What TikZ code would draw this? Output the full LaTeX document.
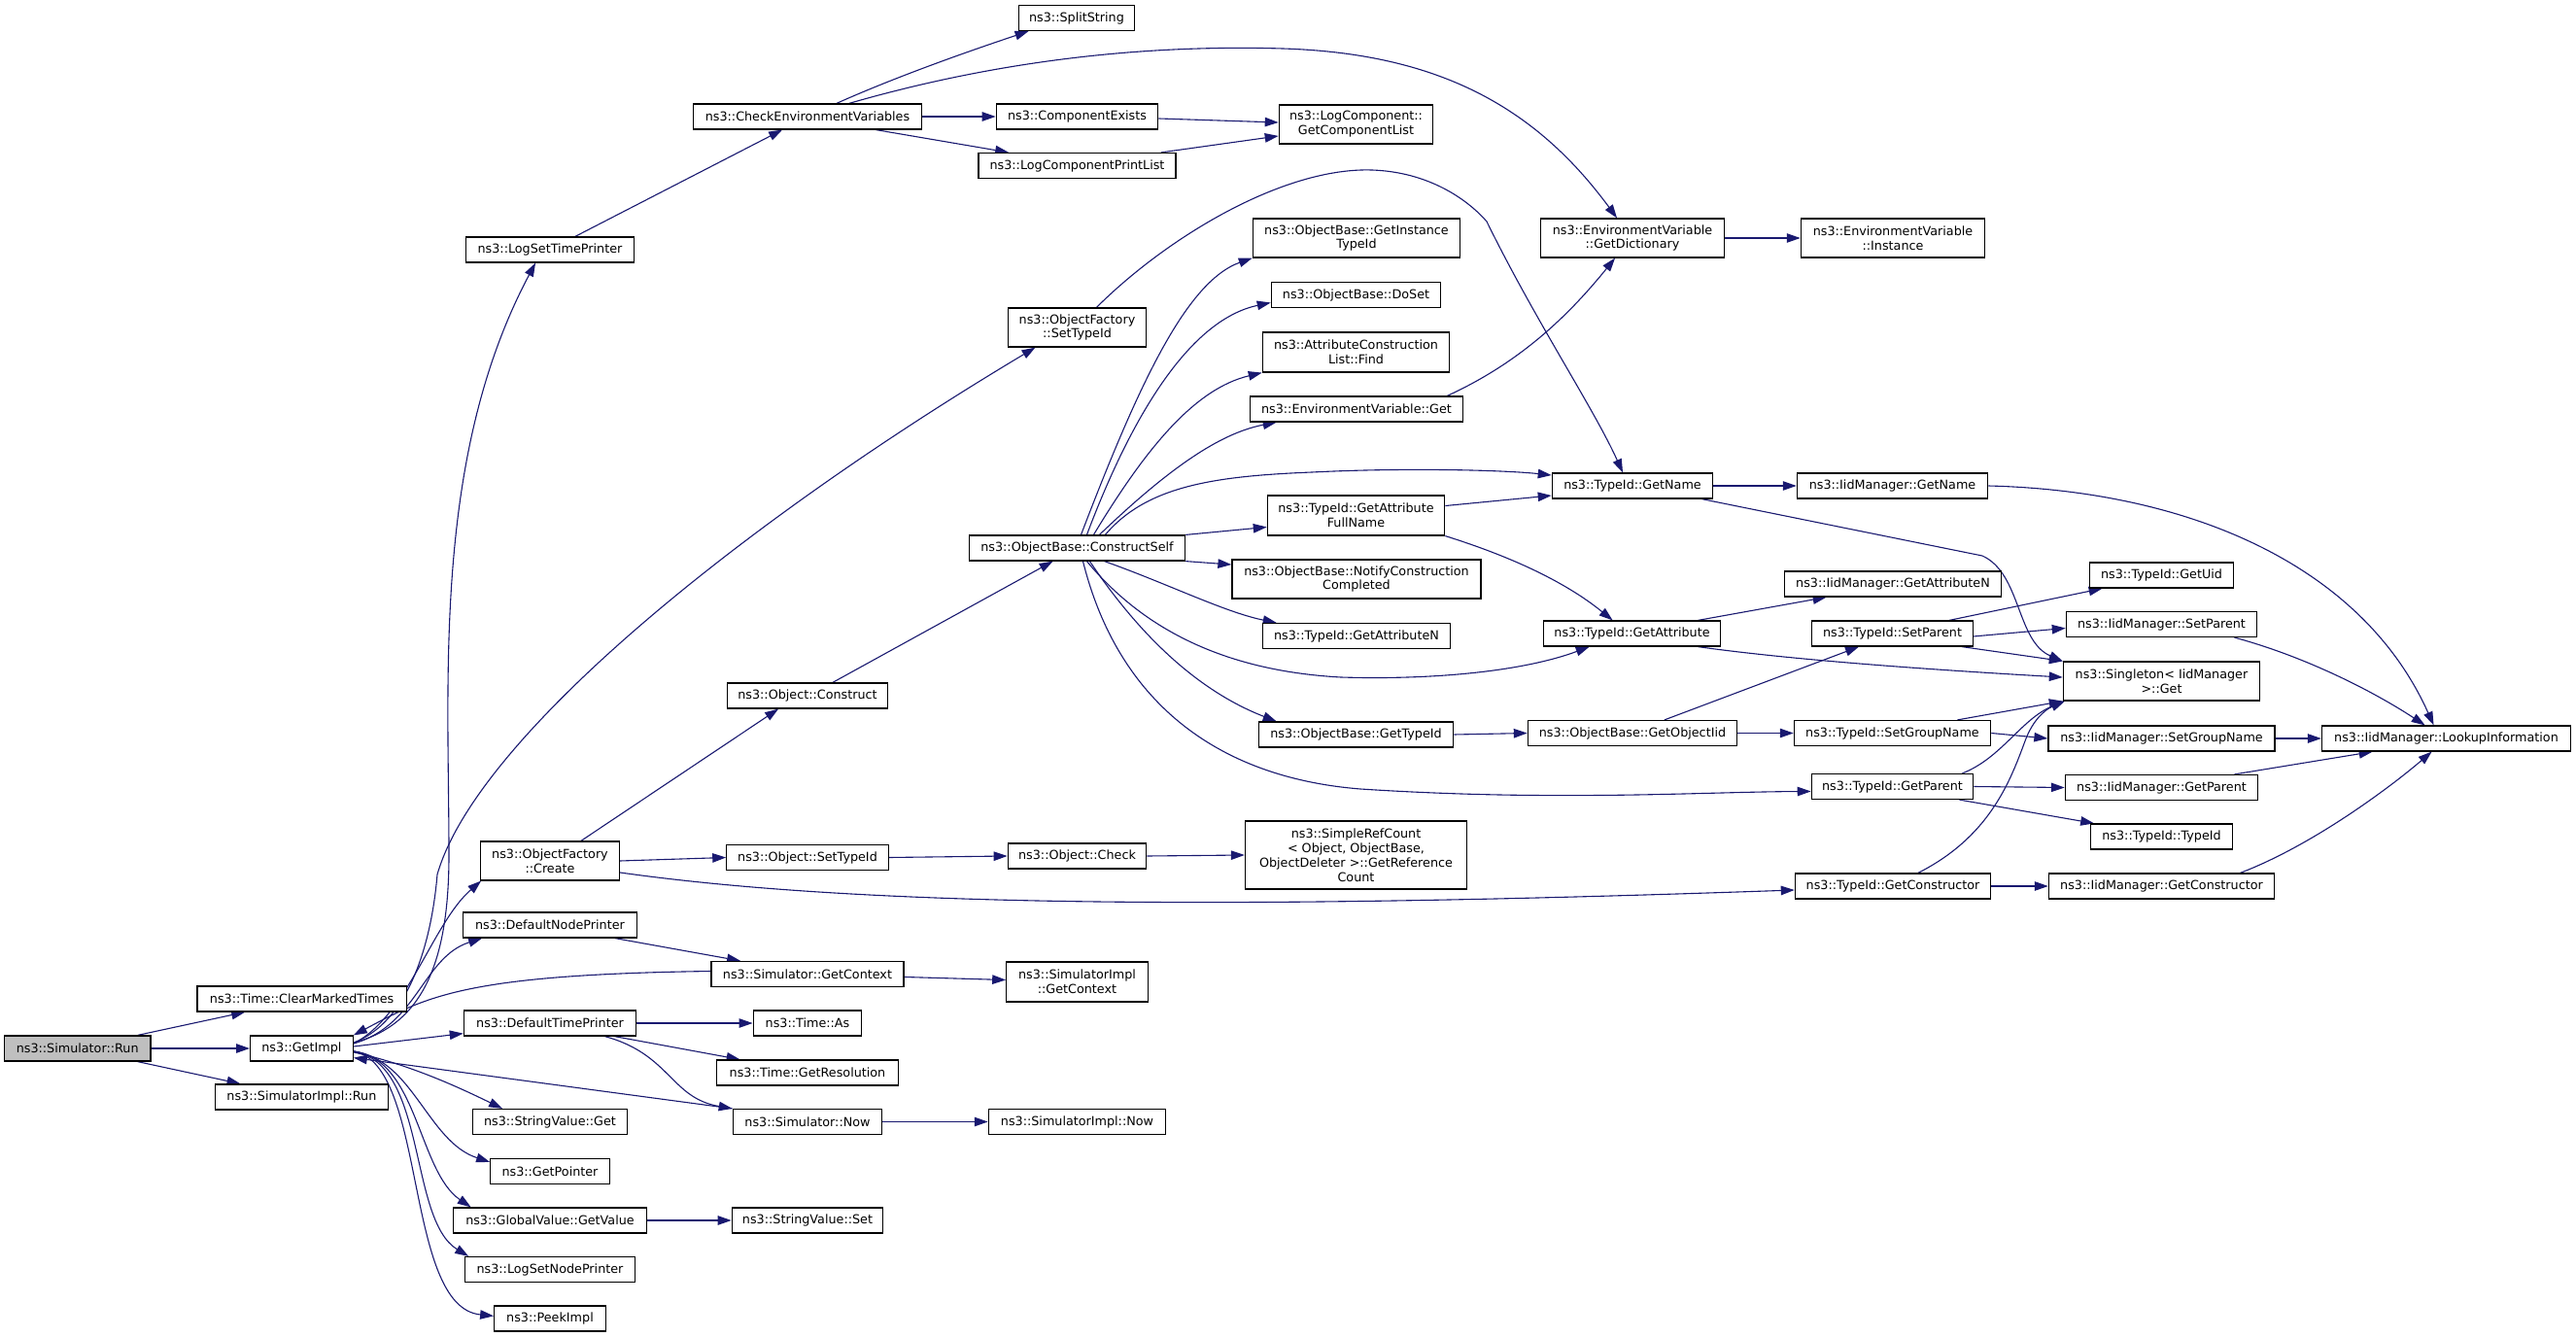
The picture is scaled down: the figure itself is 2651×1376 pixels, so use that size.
\documentclass[tikz,border=0pt]{standalone}
\usepackage{fontspec}
\setmainfont{DejaVu Sans}
\usetikzlibrary{arrows.meta}
\definecolor{edgeblue}{HTML}{191970}
\definecolor{rootgray}{HTML}{BFBFBF}
\pgfdeclarelayer{bglayer}
\pgfdeclarelayer{edgelayer}
\pgfsetlayers{bglayer,edgelayer,main}
\tikzset{
  nd/.style={draw=black, line width=1.3, fill=white, inner sep=0pt, align=center,
    minimum height=26, font=\fontsize{12.8}{15}\selectfont},
  e/.style={draw=edgeblue, line width=1.1, -{Triangle[length=14,width=9.5]}},
}
\begin{document}
\begin{tikzpicture}[x=1bp,y=-1bp]
\begin{pgfonlayer}{bglayer}
\fill[white] (0,0) rectangle (2651,1376);
\end{pgfonlayer}
\useasboundingbox (0,0) rectangle (2651,1376);
% column 1
\node[nd, fill=rootgray, minimum width=151] (root) at (79.7,1079) {ns3::Simulator::Run};
% column 2
\node[nd, minimum width=216] (clear) at (310.6,1028) {ns3::Time::ClearMarkedTimes};
\node[nd, minimum width=106] (getimpl) at (310.4,1079) {ns3::GetImpl};
\node[nd, minimum width=179] (simrun) at (310.4,1129) {ns3::SimulatorImpl::Run};
% column 3
\node[nd, minimum width=174] (lstp) at (566,257) {ns3::LogSetTimePrinter};
\node[nd, minimum width=143, minimum height=40] (create) at (566,886) {ns3::ObjectFactory\\::Create};
\node[nd, minimum width=179] (dnp) at (566,952) {ns3::DefaultNodePrinter};
\node[nd, minimum width=178] (dtp) at (566,1053) {ns3::DefaultTimePrinter};
\node[nd, minimum width=159] (svget) at (566,1154.5) {ns3::StringValue::Get};
\node[nd, minimum width=123] (getptr) at (566,1205.5) {ns3::GetPointer};
\node[nd, minimum width=200] (gvget) at (566,1256) {ns3::GlobalValue::GetValue};
\node[nd, minimum width=175] (lsnp) at (566,1306.5) {ns3::LogSetNodePrinter};
\node[nd, minimum width=115] (peek) at (566,1357) {ns3::PeekImpl};
% column 4
\node[nd, minimum width=236] (check) at (831,120) {ns3::CheckEnvironmentVariables};
\node[nd, minimum width=166] (construct) at (831,716) {ns3::Object::Construct};
\node[nd, minimum width=167] (osettid) at (831,882.5) {ns3::Object::SetTypeId};
\node[nd, minimum width=199] (sgc) at (831,1002.5) {ns3::Simulator::GetContext};
\node[nd, minimum width=112] (tas) at (831,1053) {ns3::Time::As};
\node[nd, minimum width=188] (tres) at (831,1104) {ns3::Time::GetResolution};
\node[nd, minimum width=154] (snow) at (831,1154.5) {ns3::Simulator::Now};
\node[nd, minimum width=156] (svset) at (831,1256) {ns3::StringValue::Set};
% column 5
\node[nd, minimum width=120] (split) at (1108,18.5) {ns3::SplitString};
\node[nd, minimum width=167] (compex) at (1108.5,120) {ns3::ComponentExists};
\node[nd, minimum width=204] (lcpl) at (1108.5,170.5) {ns3::LogComponentPrintList};
\node[nd, minimum width=143, minimum height=40] (ofset) at (1108.5,337) {ns3::ObjectFactory\\::SetTypeId};
\node[nd, minimum width=223] (cself) at (1108.5,564) {ns3::ObjectBase::ConstructSelf};
\node[nd, minimum width=143] (ocheck) at (1108.5,881) {ns3::Object::Check};
\node[nd, minimum width=146, minimum height=41] (sigc) at (1108.5,1010.5) {ns3::SimulatorImpl\\::GetContext};
\node[nd, minimum width=183] (sinow) at (1108.5,1154.5) {ns3::SimulatorImpl::Now};
% column 6
\node[nd, minimum width=159, minimum height=40] (gcl) at (1395.5,128) {ns3::LogComponent::\\GetComponentList};
\node[nd, minimum width=214, minimum height=40] (git) at (1396,245) {ns3::ObjectBase::GetInstance\\TypeId};
\node[nd, minimum width=175] (doset) at (1395.5,303.5) {ns3::ObjectBase::DoSet};
\node[nd, minimum width=193, minimum height=41] (find) at (1395.5,362.5) {ns3::AttributeConstruction\\List::Find};
\node[nd, minimum width=220] (envget) at (1396,421) {ns3::EnvironmentVariable::Get};
\node[nd, minimum width=183, minimum height=41] (afn) at (1395.5,530.5) {ns3::TypeId::GetAttribute\\FullName};
\node[nd, minimum width=257, minimum height=40] (ncc) at (1396,596) {ns3::ObjectBase::NotifyConstruction\\Completed};
\node[nd, minimum width=194] (tgan) at (1396,654.5) {ns3::TypeId::GetAttributeN};
\node[nd, minimum width=201] (obgt) at (1395.5,756) {ns3::ObjectBase::GetTypeId};
\node[nd, minimum width=229, minimum height=70] (srcnt) at (1395.5,880) {ns3::SimpleRefCount\\< Object, ObjectBase,\\ ObjectDeleter >::GetReference\\Count};
% column 7
\node[nd, minimum width=190, minimum height=40] (gd) at (1680,245) {ns3::EnvironmentVariable\\::GetDictionary};
\node[nd, minimum width=166] (tgn) at (1680,500) {ns3::TypeId::GetName};
\node[nd, minimum width=183] (tga) at (1679.5,652) {ns3::TypeId::GetAttribute};
\node[nd, minimum width=216] (goi) at (1680,754.5) {ns3::ObjectBase::GetObjectIid};
% column 8
\node[nd, minimum width=190, minimum height=40] (inst) at (1948,245) {ns3::EnvironmentVariable\\::Instance};
\node[nd, minimum width=197] (igm) at (1947.5,500) {ns3::IidManager::GetName};
\node[nd, minimum width=224] (igan) at (1948,601) {ns3::IidManager::GetAttributeN};
\node[nd, minimum width=166] (tsp) at (1947.5,652) {ns3::TypeId::SetParent};
\node[nd, minimum width=203] (tsg) at (1947.5,754.5) {ns3::TypeId::SetGroupName};
\node[nd, minimum width=167] (tgp) at (1947.5,809.5) {ns3::TypeId::GetParent};
\node[nd, minimum width=202] (tgc) at (1948,912) {ns3::TypeId::GetConstructor};
% column 9
\node[nd, minimum width=149] (uid) at (2224.5,592) {ns3::TypeId::GetUid};
\node[nd, minimum width=197] (isp) at (2224.5,642.5) {ns3::IidManager::SetParent};
\node[nd, minimum width=203, minimum height=40] (sing) at (2224.5,701) {ns3::Singleton< IidManager\\ >::Get};
\node[nd, minimum width=234] (isg) at (2224.5,760) {ns3::IidManager::SetGroupName};
\node[nd, minimum width=199] (igp) at (2224.5,810.5) {ns3::IidManager::GetParent};
\node[nd, minimum width=146] (ttid) at (2224.5,861) {ns3::TypeId::TypeId};
\node[nd, minimum width=233] (igc) at (2224.5,912) {ns3::IidManager::GetConstructor};
% column 10
\node[nd, minimum width=257] (lookup) at (2517.5,760) {ns3::IidManager::LookupInformation};

\begin{pgfonlayer}{edgelayer}
% Simulator::Run
\draw[e] ([xshift=-14]root.north east) -- ([xshift=50]clear.south west);
\draw[e] (root.east) -- (getimpl.west);
\draw[e] ([xshift=-14]root.south east) -- ([xshift=27]simrun.north west);
% GetImpl fan-out
\draw[e] ([yshift=5]getimpl.east) .. controls (420,1045) and (445,950) .. ([xshift=1]create.south west);
\draw[e] ([yshift=5]getimpl.east) .. controls (430,1055) and (435,985) .. ([xshift=20]dnp.south west);
\draw[e] ([yshift=6]getimpl.east) .. controls (435,1055) and (462,990) .. (462,880)
  .. controls (462,700) and (445,470) .. ([xshift=-15]lstp.south);
\draw[e] ([yshift=6]getimpl.east) .. controls (425,1050) and (445,960) .. (450,900)
  .. controls (490,760) and (760,540) .. ([xshift=29]ofset.south west);
\draw[e] ([yshift=2]getimpl.east) -- ([yshift=3]dtp.south west);
\draw[e] ([yshift=3]sgc.west) .. controls (480,1003) and (440,1025) .. (getimpl.north east);
\draw[e] (snow.north west) -- ([yshift=4]getimpl.south east);
\draw[e] ([yshift=-4]getimpl.east) .. controls (420,1095) and (470,1118) .. ([xshift=31]svget.north west);
\draw[e] ([yshift=-3]getimpl.east) .. controls (425,1090) and (440,1175) .. ([yshift=-4]getptr.north west);
\draw[e] ([yshift=-3]getimpl.east) .. controls (430,1090) and (430,1205) .. ([xshift=19]gvget.north west);
\draw[e] ([yshift=-3]getimpl.east) .. controls (440,1095) and (420,1255) .. ([xshift=4]lsnp.north west);
\draw[e] ([yshift=-3]getimpl.east) .. controls (440,1095) and (415,1345) .. ([yshift=-11]peek.north west);
\draw[e] (gvget.east) -- (svset.west);
\draw[e] ([xshift=-23]dnp.south east) -- ([xshift=31]sgc.north west);
\draw[e] ([yshift=-3]sgc.east) -- ([yshift=2]sigc.west);
\draw[e] (dtp.east) -- (tas.west);
\draw[e] ([xshift=-23]dtp.south east) -- ([xshift=25]tres.north west);
\draw[e] ([xshift=-33]dtp.south east) .. controls (690,1085) and (690,1130) .. (snow.north west);
\draw[e] (snow.east) -- (sinow.west);
% log / environment
\draw[e] ([xshift=26]lstp.north) -- ([xshift=-26]check.south);
\draw[e] ([xshift=30]check.north) .. controls (920,80) and (990,55) .. ([xshift=11]split.south west);
\draw[e] ([xshift=43]check.north) .. controls (1000,70) and (1150,45) .. (1320,50)
  .. controls (1480,55) and (1580,110) .. ([xshift=-16]gd.north);
\draw[e] (check.east) -- (compex.west);
\draw[e] ([xshift=-48]check.south east) -- ([xshift=32]lcpl.north west);
\draw[e] ([yshift=-2]compex.east) -- ([yshift=2]gcl.west);
\draw[e] ([xshift=-16]lcpl.north east) -- ([yshift=-12]gcl.west);
\draw[e] (gd.east) -- (inst.west);
\draw[e] ([xshift=-17]envget.north east) .. controls (1560,375) and (1610,330) .. ([xshift=-18]gd.south);
\draw[e] ([xshift=20]ofset.north) .. controls (1200,245) and (1320,172) .. (1412,175)
  .. controls (1470,177) and (1510,205) .. (1530,228)
  .. controls (1580,330) and (1640,420) .. ([xshift=-10]tgn.north);
% object factory
\draw[e] ([xshift=32]create.north) -- ([xshift=-30]construct.south);
\draw[e] (create.east) -- (osettid.west);
\draw[e] ([yshift=-12]create.east) .. controls (900,935) and (1300,935) .. ([yshift=-4]tgc.west);
\draw[e] ([xshift=26]construct.north) -- ([xshift=-25]cself.south);
\draw[e] (osettid.east) -- (ocheck.west);
\draw[e] (ocheck.east) -- (srcnt.west);
% ConstructSelf
\draw[e] ([xshift=4]cself.north) .. controls (1170,400) and (1220,290) .. (git.south west);
\draw[e] ([xshift=10]cself.north) .. controls (1160,440) and (1220,330) .. ([yshift=-8]doset.west);
\draw[e] ([xshift=17]cself.north) .. controls (1180,460) and (1230,400) .. (find.south west);
\draw[e] ([xshift=23]cself.north) .. controls (1210,475) and (1260,445) .. ([xshift=28]envget.south west);
\draw[e] ([xshift=29]cself.north) .. controls (1180,500) and (1250,490) .. (1350,486)
  .. controls (1450,481) and (1550,484) .. ([yshift=11]tgn.west);
\draw[e] (cself.north east) -- ([yshift=-12]afn.west);
\draw[e] (cself.south east) -- ([yshift=15]ncc.west);
\draw[e] ([xshift=28]cself.south) .. controls (1200,600) and (1260,630) .. ([xshift=15]tgan.north west);
\draw[e] ([xshift=10]cself.south) .. controls (1170,640) and (1250,690) .. (1380,697)
  .. controls (1480,700) and (1570,690) .. ([xshift=-44]tga.south);
\draw[e] ([xshift=13]cself.south) .. controls (1170,650) and (1230,710) .. ([xshift=19]obgt.north west);
\draw[e] ([xshift=6]cself.south) .. controls (1150,720) and (1250,800) .. (1400,812)
  .. controls (1600,825) and (1750,815) .. ([yshift=-5]tgp.west);
% TypeId
\draw[e] ([yshift=10]afn.east) -- ([yshift=-10]tgn.west);
\draw[e] (afn.south east) .. controls (1530,565) and (1600,590) .. ([xshift=-20]tga.north);
\draw[e] (tgn.east) -- (igm.west);
\draw[e] ([xshift=-12]tgn.south east) -- (2040,572) .. controls (2080,590) and (2075,660) .. (sing.north west);
\draw[e] (igm.east) .. controls (2250,505) and (2430,580) .. ([xshift=-13]lookup.north);
\draw[e] ([xshift=-24]tga.north east) -- ([xshift=44]igan.south west);
\draw[e] ([xshift=-24]tga.south east) .. controls (1850,680) and (2000,690) .. ([yshift=4]sing.west);
\draw[e] (obgt.east) -- (goi.west);
\draw[e] ([xshift=33]goi.north) -- ([xshift=49]tsp.south west);
\draw[e] (goi.east) -- (tsg.west);
\draw[e] ([xshift=-25]tsp.north east) -- ([xshift=14]uid.south west);
\draw[e] ([yshift=-3]tsp.east) -- ([yshift=-4]isp.west);
\draw[e] ([xshift=-12]tsp.south east) -- (sing.north west);
\draw[e] ([xshift=-35]tsg.north east) -- (sing.south west);
\draw[e] (tsg.east) -- (isg.west);
\draw[e] ([xshift=-12]tgp.north east) .. controls (2060,780) and (2080,740) .. ([xshift=2]sing.south west);
\draw[e] (tgp.east) -- (igp.west);
\draw[e] ([xshift=-15]tgp.south east) -- ([xshift=4]ttid.north west);
\draw[e] ([xshift=26]tgc.north) .. controls (2050,860) and (2070,800) .. (2085,760)
  .. controls (2095,735) and (2110,728) .. ([xshift=2]sing.south west);
\draw[e] (tgc.east) -- (igc.west);
% IidManager
\draw[e] ([xshift=-24]isp.south east) .. controls (2370,675) and (2440,710) .. ([xshift=-22]lookup.north);
\draw[e] (isg.east) -- (lookup.west);
\draw[e] ([xshift=-25]igp.north east) -- ([xshift=53]lookup.south west);
\draw[e] ([xshift=-36]igc.north east) .. controls (2380,870) and (2460,810) .. ([xshift=-15]lookup.south);
\end{pgfonlayer}
\end{tikzpicture}
\end{document}
